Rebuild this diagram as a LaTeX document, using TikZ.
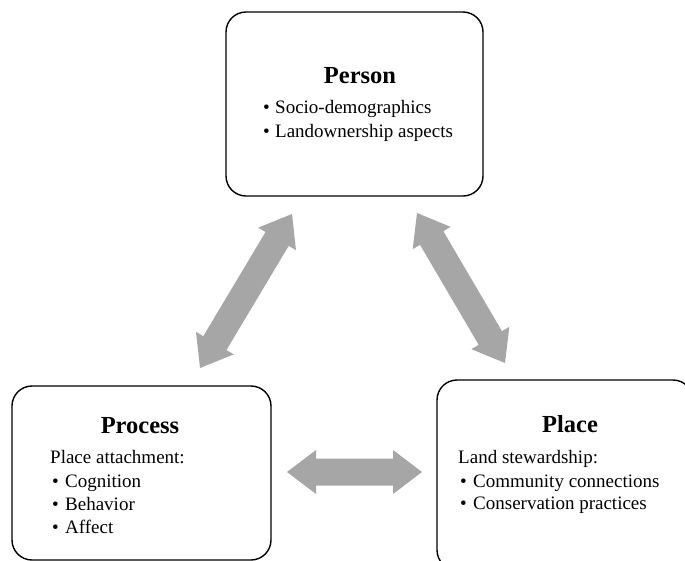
\documentclass[tikz,border=0pt]{standalone}
\usepackage{fontspec}
\setmainfont{Liberation Serif}
\usetikzlibrary{calc}
\definecolor{arrowgray}{HTML}{A6A6A6}
\newcommand\hl{29pt}
\newcommand\hw{22pt}
\newcommand\sw{13.5pt}
\newcommand\blockarrow[2]{%
\fill[arrowgray] (#1) -- ($(#1)!\hl!(#2)!\hw!90:(#2)$) -- ($(#1)!\hl!(#2)!\sw!90:(#2)$)
 -- ($(#2)!\hl!(#1)!\sw!-90:(#1)$) -- ($(#2)!\hl!(#1)!\hw!-90:(#1)$) -- (#2)
 -- ($(#2)!\hl!(#1)!\hw!90:(#1)$) -- ($(#2)!\hl!(#1)!\sw!90:(#1)$)
 -- ($(#1)!\hl!(#2)!\sw!-90:(#2)$) -- ($(#1)!\hl!(#2)!\hw!-90:(#2)$) -- cycle;}
\tikzset{
  box/.style={draw=black, line width=1.4pt, rounded corners=20pt, inner sep=0pt},
  title/.style={font=\fontsize{24.5}{29}\selectfont\bfseries, anchor=base, inner sep=0pt},
  body/.style={font=\fontsize{19}{23}\selectfont, anchor=base west, inner sep=0pt},
}
\begin{document}
\begin{tikzpicture}[x=1pt,y=-1pt]
\useasboundingbox (0,0) rectangle (685,560);
\clip (0,0) rectangle (685,560);
% boxes
\node[box, minimum width=257pt, minimum height=184pt] (person) at (354.5,104) {};
\node[box, minimum width=259pt, minimum height=174pt] (process) at (141.5,473) {};
\node[box, minimum width=256pt, minimum height=190pt] (place) at (565,475) {};
% Person text
\node[title] (persont) at (360,83) {Person};
\node[body] (pb1) at (263,113) {•};
\node[body] (p1) at (275,113) {Socio-demographics};
\node[body] (pb2) at (263,137) {•};
\node[body] (p2) at (275,137) {Landownership aspects};
% Process text
\node[title] (processt) at (140,433) {Process};
\node[body] (r0) at (50,463) {Place attachment:};
\node[body] (rb1) at (52,487) {•};
\node[body] (r1) at (65,487) {Cognition};
\node[body] (rb2) at (52,510) {•};
\node[body] (r2) at (65,510) {Behavior};
\node[body] (rb3) at (52,533) {•};
\node[body] (r3) at (65,533) {Affect};
% Place text
\node[title] (placet) at (570,432) {Place};
\node[body] (l0) at (458,463) {Land stewardship:};
\node[body] (lb1) at (460,487) {•};
\node[body] (l1) at (473,487) {Community connections};
\node[body] (lb2) at (460,509) {•};
\node[body] (l2) at (473,509) {Conservation practices};
% arrow end points
\coordinate (a1) at (200,368);
\coordinate (a2) at (292,214);
\coordinate (b1) at (417,213);
\coordinate (b2) at (505,363);
\coordinate (c1) at (287,472);
\coordinate (c2) at (422,472);
\blockarrow{a1}{a2}
\blockarrow{b1}{b2}
\blockarrow{c1}{c2}
\end{tikzpicture}
\end{document}
